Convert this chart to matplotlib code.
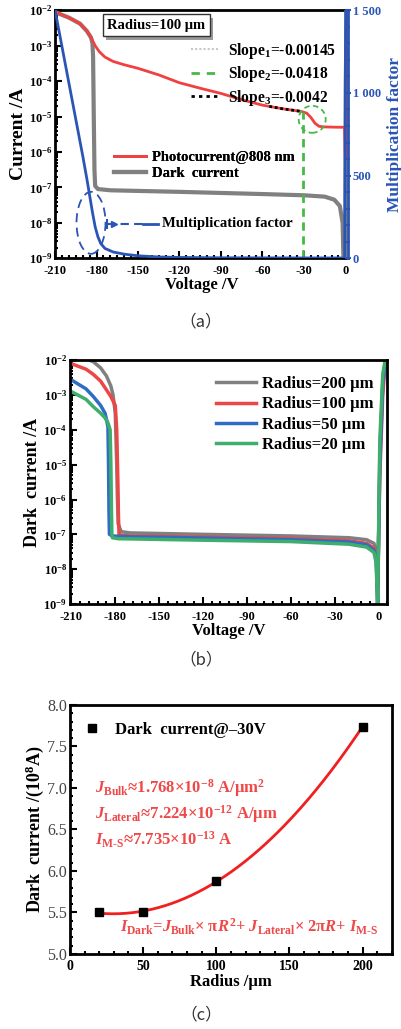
import numpy as np
import matplotlib
matplotlib.use('Agg')
import matplotlib.pyplot as plt
from matplotlib.patches import Ellipse
from matplotlib.transforms import ScaledTranslation
from matplotlib.ticker import MultipleLocator, LogLocator, FixedLocator, FuncFormatter, NullFormatter
from matplotlib.lines import Line2D

plt.rcParams['font.family'] = ['Liberation Serif', 'DejaVu Serif']
plt.rcParams['font.weight'] = 'bold'
plt.rcParams['axes.labelweight'] = 'bold'
plt.rcParams['axes.unicode_minus'] = False
plt.rcParams['mathtext.fontset'] = 'custom'
plt.rcParams['mathtext.rm'] = 'Liberation Serif:bold'
plt.rcParams['mathtext.it'] = 'Liberation Serif:bold:italic'
plt.rcParams['mathtext.bf'] = 'Liberation Serif:bold'

# ---------------- data (a) ----------------
photo_v = [-210, -200, -192, -187, -184, -181, -178, -174, -168, -160, -150, -135, -120, -105,
           -90, -75, -60, -45, -32, -28, -25, -22, -19, -15, -5, -0.6, 0, 0.3, 1.0]
photo_i = [8.9e-3, 6.2e-3, 4.2e-3, 2.6e-3, 1.7e-3, 1.0e-3, 6.8e-4, 4.8e-4, 3.6e-4, 2.9e-4, 2.3e-4,
           1.5e-4, 9e-5, 6.3e-5, 4.5e-5, 3.0e-5, 2.1e-5, 1.65e-5, 1.4e-5, 1.25e-5, 9.5e-6, 6.5e-6,
           5.3e-6, 5.1e-6, 5.0e-6, 5.0e-6, 6e-7, 1e-4, 1.2e-2]
dark_v = [-210, -200, -192, -187, -184, -183, -182.5, -182, -181.5, -181, -179, -170, -120, -60, -30,
          -15, -8, -4, -2, -1.2, 0, 0.3, 1.0]
dark_i = [8.9e-3, 6.2e-3, 4.2e-3, 2.6e-3, 1.7e-3, 1.2e-3, 5e-4, 1e-5, 3e-7, 1.1e-7, 9e-8, 8.3e-8,
          7.5e-8, 6.5e-8, 6e-8, 5.5e-8, 4.5e-8, 3e-8, 1e-8, 5e-10, 5e-10, 1e-4, 1.2e-2]
mult_v = [-210, -200, -195, -190, -187, -185, -183, -181, -179, -177, -174, -168, -160, -150, -135,
          -120, -90, -30, -3, -0.5, 0.3]
mult_m = [1500, 1060, 840, 620, 480, 380, 280, 190, 130, 90, 60, 38, 25, 15, 8, 5, 3, 2, 2, 0, 1700]
slope3_range = [-55, -33]
knee_v = -31

# ---------------- data (b) ----------------
radii_b = ['200', '100', '50', '20']
b_v = {
    '200': [-210, -200, -195, -190, -186, -183, -181.5, -180, -179, -178.5, -178, -176, -170, -120, -60, -20,
            -8, -3, -1.5, -0.5, 1, 3, 5],
    '100': [-210, -200, -195, -190, -186, -183, -180, -179, -178.2, -177.8, -177.4, -176, -170, -120, -60,
            -20, -8, -3, -1.5, -0.5, 1, 3, 5],
    '50': [-210, -200, -195, -190, -187, -186, -185, -184.6, -184.3, -184, -182, -176, -170, -120, -60,
           -20, -8, -3, -1.5, -0.5, 1, 3, 5],
    '20': [-210, -200, -195, -190, -187, -185, -183.5, -183, -182.6, -182.3, -182, -178, -170, -120, -60,
           -20, -8, -3, -1.5, -0.5, 1, 3, 5],
}
b_i = {
    '200': [1.1e-2, 1.1e-2, 9e-3, 6e-3, 3.5e-3, 1.8e-3, 1e-3, 3e-4, 1e-5, 1e-6, 2e-7, 1.2e-7, 1.1e-7,
            1e-7, 9e-8, 8e-8, 7e-8, 5.5e-8, 3.5e-8, 1e-9, 2e-5, 2e-3, 1.2e-2],
    '100': [7.9e-3, 5.5e-3, 3.9e-3, 2.5e-3, 1.4e-3, 9e-4, 5e-4, 1e-4, 3e-6, 3e-7, 1e-7, 9.5e-8, 9e-8,
            8.3e-8, 7.5e-8, 6.5e-8, 5.5e-8, 4e-8, 2.5e-8, 3e-9, 5e-6, 1e-3, 1.2e-2],
    '50': [2.7e-3, 1.5e-3, 9e-4, 5e-4, 3e-4, 2e-4, 1.2e-4, 1e-5, 5e-7, 1e-7, 9e-8, 8.7e-8, 8.5e-8, 7.8e-8,
           7e-8, 6e-8, 5e-8, 3.5e-8, 2e-8, 1e-9, 1e-5, 2e-3, 1.2e-2],
    '20': [1.25e-3, 7.5e-4, 4.6e-4, 3e-4, 2.2e-4, 1.6e-4, 1e-4, 1e-5, 5e-7, 1e-7, 8e-8, 7.5e-8, 7.4e-8,
           6.8e-8, 6.2e-8, 5.2e-8, 4.3e-8, 3e-8, 1.5e-8, 1e-9, 5e-5, 4e-3, 1.2e-2],
}
b_colors = {'200': '#808080', '100': '#ec4646', '50': '#2f6cc4', '20': '#3fae6c'}

# ---------------- data (c) ----------------
radius_c = [20, 50, 100, 200]
dark_c = [5.50, 5.50, 5.88, 7.74]

RED = '#f04040'
GRAY = '#808080'
BLUE = '#2a55b5'
GREEN = '#4ab848'

fig = plt.figure(figsize=(4.02, 10.29), dpi=100)


def style_spines(ax, lw=2.0):
    for s in ax.spines.values():
        s.set_linewidth(lw)


def logfmt(y, pos):
    return r'10$^{%d}$' % int(round(np.log10(y)))


def bold_ticks(ax):
    for lab in ax.get_xticklabels() + ax.get_yticklabels():
        lab.set_fontweight('bold')


# ================= (a) =================
ax = fig.add_axes([0.137, 0.749, 0.729, 0.241])
ax.set_yscale('log')
ax.set_xlim(-210, 2)
ax.set_ylim(1e-9, 1e-2)
ax.plot(dark_v, dark_i, color=GRAY, lw=3, zorder=3)
ax.plot(photo_v, photo_i, color=RED, lw=2, zorder=4)

sv = np.linspace(slope3_range[0], slope3_range[1], 20)
si = 10 ** np.interp(sv, photo_v, np.log10(photo_i))
ax.plot(sv, si, color='black', lw=2, ls=(0, (1, 1)), zorder=5)
ax.plot([knee_v, knee_v], [1e-9, np.interp(knee_v, photo_v, photo_i)], color=GREEN, lw=2,
        ls=(0, (3, 2)), zorder=5)

# dashed circles
cx = -24
cy = 10 ** np.interp(cx, photo_v, np.log10(photo_i))
ax.add_patch(Ellipse((0, 0), 0.27, 0.27, transform=fig.dpi_scale_trans + ScaledTranslation(cx, cy, ax.transData),
                     fill=False, ec=GREEN, lw=1.3, ls=(0, (3, 2)), zorder=6))
ax.add_patch(Ellipse((0, 0), 0.29, 0.62, transform=fig.dpi_scale_trans + ScaledTranslation(-184, 1e-8, ax.transData),
                     fill=False, ec=BLUE, lw=1.3, ls=(0, (5, 3)), zorder=6))

ax.yaxis.set_major_locator(LogLocator(base=10, numticks=10))
ax.yaxis.set_minor_locator(LogLocator(base=10, subs=np.arange(2, 10), numticks=10))
ax.yaxis.set_major_formatter(FuncFormatter(logfmt))
ax.yaxis.set_minor_formatter(NullFormatter())
ax.xaxis.set_major_locator(MultipleLocator(30))
ax.xaxis.set_minor_locator(MultipleLocator(5))
ax.tick_params(which='both', direction='in', width=1.5, labelsize=9, pad=2)
ax.tick_params(axis='x', pad=5)
ax.tick_params(which='major', length=5)
ax.tick_params(which='minor', length=2.5)
ax.tick_params(axis='y', right=False)
ax.set_xlabel('Voltage /V', fontsize=12, labelpad=0)
ax.set_ylabel('Current /A', fontsize=14, labelpad=1)
style_spines(ax)
ax.spines['right'].set_visible(False)

ax2 = ax.twinx()
ax2.set_ylim(0, 1500)
ax2.plot(mult_v, mult_m, color=BLUE, lw=2, zorder=4)
ax2.yaxis.set_major_locator(FixedLocator([0, 500, 1000, 1500]))
ax2.yaxis.set_minor_locator(MultipleLocator(100))
ax2.yaxis.set_major_formatter(FuncFormatter(lambda v, p: '{:,}'.format(int(v)).replace(',', ' ')))
ax2.tick_params(which='both', colors=BLUE, width=1.5, direction='inout', labelsize=9, pad=1)
ax2.tick_params(which='major', length=5)
ax2.tick_params(which='minor', length=3)
ax2.set_ylabel('Multiplication factor', color=BLUE, fontsize=12.5, labelpad=4)
for k, s in ax2.spines.items():
    s.set_linewidth(2)
    s.set_visible(k == 'right')
ax2.spines['right'].set_color(BLUE)

# box label with shadow
t_off = ScaledTranslation(2.5 / 72, -2.5 / 72, fig.dpi_scale_trans)
ax.text(0.345, 0.94, 'Radius=100 μm', transform=ax.transAxes + t_off, ha='center', va='center',
        fontsize=10.5, alpha=0,
        bbox=dict(boxstyle='square,pad=0.3', fc='#9a9a9a', ec='none', alpha=1), zorder=7)
ax.text(0.345, 0.94, 'Radius=100 μm', transform=ax.transAxes, ha='center', va='center', fontsize=10.5,
        bbox=dict(boxstyle='square,pad=0.3', fc='white', ec='#333333', lw=1), zorder=8)

h_slopes = [Line2D([], [], color='#c8c8c8', lw=1.5, ls=(0, (1, 1))),
            Line2D([], [], color=GREEN, lw=2, ls=(0, (3, 2.5))),
            Line2D([], [], color='black', lw=2, ls=(0, (1.2, 1.5)))]
lg1 = ax.legend(h_slopes, ['Slope$_1$=-0.00145', 'Slope$_2$=-0.0418', 'Slope$_3$=-0.0042'],
                loc='upper right', bbox_to_anchor=(0.99, 0.915), frameon=False, fontsize=11.2,
                handlelength=1.7, handletextpad=0.65, labelspacing=0.22, borderpad=0.1)
ax.add_artist(lg1)
h_curves = [Line2D([], [], color=RED, lw=2), Line2D([], [], color=GRAY, lw=3)]
lg2 = ax.legend(h_curves, ['Photocurrent@808 nm', 'Dark  current'], loc='upper left',
                bbox_to_anchor=(0.17, 0.47), frameon=False, fontsize=10.5, handlelength=2.2,
                handletextpad=0.4, labelspacing=0.2, borderpad=0.1)
ax.add_artist(lg2)

# multiplication factor pointer
ya = 0.14
ax.plot([0.178], [ya], marker='|', ms=7, mew=1.5, color=BLUE, transform=ax.transAxes)
ax.plot([0.178, 0.3], [ya, ya], color=BLUE, lw=1.5, ls=(0, (4, 2.5)), transform=ax.transAxes)
ax.plot([0.2], [ya], marker='>', ms=5, color=BLUE, transform=ax.transAxes)
ax.plot([0.3, 0.35], [ya, ya], color=BLUE, lw=2, transform=ax.transAxes)
ax.text(0.365, ya, 'Multiplication factor', transform=ax.transAxes, ha='left', va='center', fontsize=10.5)

fig.text(0.5, 0.687, '（a）', ha='center', va='center', fontsize=12, family='Noto Sans CJK SC',
         fontweight='normal', color='#333333')

# ================= (b) =================
bx = fig.add_axes([0.174, 0.413, 0.789, 0.237])
bx.set_yscale('log')
bx.set_xlim(-211, 6)
bx.set_ylim(1e-9, 1e-2)
for r in radii_b:
    bx.plot(b_v[r], b_i[r], color=b_colors[r], lw=2.5, label='Radius=%s μm' % r)
bx.legend(loc='upper right', bbox_to_anchor=(0.99, 0.975), frameon=False, fontsize=12, handlelength=2.4,
          handletextpad=0.4, labelspacing=0.25, borderpad=0.1)
bx.yaxis.set_major_locator(LogLocator(base=10, numticks=10))
bx.yaxis.set_minor_locator(LogLocator(base=10, subs=np.arange(2, 10), numticks=10))
bx.yaxis.set_major_formatter(FuncFormatter(logfmt))
bx.yaxis.set_minor_formatter(NullFormatter())
bx.xaxis.set_major_locator(MultipleLocator(30))
bx.xaxis.set_minor_locator(MultipleLocator(6))
bx.tick_params(which='both', direction='in', width=1.5, labelsize=9, pad=2)
bx.tick_params(axis='x', pad=5)
bx.tick_params(which='major', length=5)
bx.tick_params(which='minor', length=2.5)
bx.set_xlabel('Voltage /V', fontsize=12, labelpad=0)
bx.set_ylabel('Dark  current /A', fontsize=13, labelpad=2)
style_spines(bx)
fig.text(0.5, 0.359, '（b）', ha='center', va='center', fontsize=12, family='Noto Sans CJK SC',
         fontweight='normal', color='#333333')

# ================= (c) =================
cxa = fig.add_axes([0.174, 0.0729, 0.801, 0.242])
cxa.set_xlim(0, 220)
cxa.set_ylim(5.0, 8.0)
coef = np.polyfit(radius_c, dark_c, 2)
rr = np.linspace(min(radius_c), max(radius_c), 200)
cxa.plot(rr, np.polyval(coef, rr), color='#f02020', lw=2, zorder=3)
cxa.plot(radius_c, dark_c, ls='none', marker='s', ms=5.5, color='black', zorder=4,
         label='Dark  current@–30V')
cxa.legend(loc='upper left', bbox_to_anchor=(-0.015, 1.0), frameon=False, fontsize=12, handlelength=1.2,
           handletextpad=0.8, borderpad=0.5)
TRED = '#f04848'
cxa.text(0.078, 0.667, r'$J_{\rm Bulk}$≈1.768×10$^{-8}$ A/μm$^2$', transform=cxa.transAxes, color=TRED,
         fontsize=12, va='center')
cxa.text(0.078, 0.56, r'$J_{\rm Lateral}$≈7.224×10$^{-12}$ A/μm', transform=cxa.transAxes, color=TRED,
         fontsize=12, va='center')
cxa.text(0.078, 0.46, r'$I_{\rm M\text{-}S}$≈7.735×10$^{-13}$ A', transform=cxa.transAxes, color=TRED,
         fontsize=12, va='center')
cxa.text(0.155, 0.11, r'$I_{\rm Dark}$=$J_{\rm Bulk}$× π$R^2$+ $J_{\rm Lateral}$× 2π$R$+ $I_{\rm M\text{-}S}$',
         transform=cxa.transAxes, color=TRED, fontsize=11.9, va='center')
cxa.xaxis.set_major_locator(MultipleLocator(50))
cxa.xaxis.set_minor_locator(MultipleLocator(10))
cxa.yaxis.set_major_locator(MultipleLocator(0.5))
cxa.yaxis.set_minor_locator(MultipleLocator(0.1))
cxa.yaxis.set_major_formatter(FuncFormatter(lambda v, p: '%.1f' % v))
cxa.tick_params(which='both', direction='in', width=1.5, pad=2)
cxa.tick_params(which='major', length=5)
cxa.tick_params(which='minor', length=2.5)
cxa.tick_params(axis='x', labelsize=10, pad=4)
cxa.tick_params(axis='y', labelsize=11.5, labelcolor='#444444')
cxa.set_xlabel('Radius /μm', fontsize=12, labelpad=1)
cxa.set_ylabel('Dark  current /(10$^8$A)', fontsize=13, labelpad=1)
style_spines(cxa)
fig.text(0.5, 0.0136, '（c）', ha='center', va='center', fontsize=12, family='Noto Sans CJK SC',
         fontweight='normal', color='#333333')

for a in (ax, ax2, bx):
    bold_ticks(a)
for lab in cxa.get_xticklabels():
    lab.set_fontweight('bold')
for lab in cxa.get_yticklabels():
    lab.set_fontweight('normal')

fig.savefig('out.png', dpi=100)
